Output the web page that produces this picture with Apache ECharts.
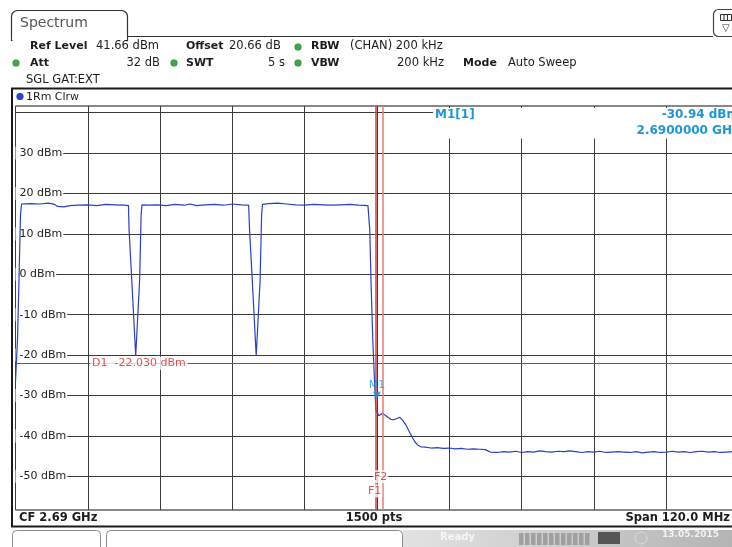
<!DOCTYPE html>
<html>
<head>
<meta charset="utf-8">
<script src="https://cdn.jsdelivr.net/npm/echarts@6/dist/echarts.min.js"></script>
<style>
html, body { margin: 0; padding: 0; background: #fff; }
#chart { width: 732px; height: 547px; }
</style>
</head>
<body>
<div id="chart"></div>
<script>
// trace, MHz / dBm
let traceFreq = [
  2630.0, 2630.33, 2630.58, 2630.83, 2631.0, 2632.5, 2634.0, 2635.5, 2636.5, 2637.0,
  2638.0, 2639.0, 2640.5, 2642.0, 2643.5, 2645.0, 2646.5, 2648.0, 2648.75, 2648.85,
  2649.4, 2649.95, 2650.6, 2650.85, 2651.0, 2652.0, 2653.5, 2655.0, 2656.5, 2658.0,
  2659.0, 2660.0, 2661.5, 2663.0, 2664.5, 2666.0, 2667.5, 2668.7, 2668.85, 2669.4,
  2669.95, 2670.6, 2670.85, 2671.0, 2672.0, 2673.5, 2675.0, 2676.5, 2678.0, 2679.5,
  2681.0, 2682.5, 2684.0, 2685.5, 2687.0, 2688.5, 2688.7, 2688.8, 2689.0, 2689.3,
  2689.65, 2689.8, 2690.0, 2690.3, 2690.6, 2690.9, 2691.3, 2691.8, 2692.3, 2692.8,
  2693.3, 2693.8, 2694.3, 2694.8, 2695.3, 2695.8, 2696.3, 2696.8, 2697.3, 2698,
  2699, 2700, 2701, 2702, 2703, 2704, 2705, 2706, 2707, 2708,
  2708.8, 2710, 2711, 2712, 2713, 2714, 2715, 2716, 2717, 2718,
  2719, 2720, 2721, 2722, 2723, 2724, 2725, 2726, 2727, 2728,
  2729, 2730, 2731, 2732, 2733, 2734, 2735, 2736, 2737, 2738,
  2739, 2740, 2741, 2742, 2743, 2744, 2745, 2746, 2747, 2748,
  2749, 2750
];
let traceLevel = [
  -26.5, -16.2, -1.4, 14.7, 17.4, 17.5, 17.4, 17.6, 17.3, 16.8,
  16.7, 17.0, 17.1, 17.2, 17.0, 17.3, 17.2, 17.1, 17.0, 11.0,
  -4.3, -20.2, -1.4, 14.7, 17.2, 17.1, 17.2, 17.0, 17.3, 17.1,
  17.4, 17.0, 17.2, 17.3, 17.1, 17.4, 17.2, 17.1, 11.0, -4.3,
  -20.2, -1.4, 14.7, 17.3, 17.5, 17.6, 17.4, 17.2, 17.1, 17.3,
  17.2, 17.1, 17.2, 17.3, 17.1, 17.0, 16.8, 11.0, -1.4, -16.2,
  -28.5, -33.5, -33.8, -35.0, -34.9, -34.4, -34.8, -35.4, -35.9, -36.0,
  -35.7, -35.4, -36.2, -37.3, -38.8, -40.2, -41.5, -42.3, -42.7, -42.8,
  -43.0, -42.9, -43.1, -43.0, -43.2, -43.1, -43.3, -43.2, -43.3, -43.4,
  -44.0, -44.1, -43.9, -44.0, -43.8, -44.1, -43.9, -44.0, -43.7, -43.9,
  -44.0, -43.8, -43.9, -43.7, -43.9, -44.1, -43.9, -44.0, -43.8, -44.1,
  -44.0, -43.9, -44.0, -44.1, -43.9, -44.2, -44.0, -43.9, -44.1, -44.0,
  -43.8, -44.0, -43.9, -44.1, -43.9, -43.8, -44.0, -43.9, -44.1, -44.0,
  -43.9, -44.0
];

let levelTicks = [-50, -40, -30, -20, -10, 0, 10, 20, 30, 40];
let levelLabels = [-50, -40, -30, -20, -10, 0, 10, 20, 30];
let freqMin = 2630;
let freqMax = 2750;
let freqStep = 12;
let refLevel = 41.66;
let bottomLevel = -58.34;

let displayLine = -22.03;
let f1Freq = 2689.85;
let f2Freq = 2690.9;
let markerFreq = 2690;
let markerLevel = -30.94;

let font = '"DejaVu Sans"';
let dark = '#1c1c1c';
let cyan = '#1e97d6';
let red = '#d42a2a';

function txt(x, y, text, style) {
  let s = style || {};
  let align = s.align || 'left';
  return {
    type: 'text', x: x, y: y, z: 110,
    style: {
      text: text,
      font: (s.bold ? 'bold ' : '') + (s.size || 11) + 'px ' + font,
      fill: s.color || dark,
      align: align, verticalAlign: 'middle',
      textAlign: align, textVerticalAlign: 'middle'
    }
  };
}

function dot(cx, cy, color) {
  return {
    type: 'circle', z: 110,
    shape: { cx: cx, cy: cy, r: 3.5 },
    style: { fill: color, stroke: 'rgba(0,0,0,0.25)', lineWidth: 0.5 }
  };
}

function rect(x, y, w, h, style, r) {
  return { type: 'rect', z: 100, shape: { x: x, y: y, width: w, height: h, r: r || 0 }, style: style };
}

function seg(x1, y1, x2, y2, color, width) {
  return { type: 'line', z: 101, shape: { x1: x1, y1: y1, x2: x2, y2: y2 }, style: { stroke: color, lineWidth: width || 1 } };
}

let green = '#3fa64a';

let graphics = [
  // tab + header line
  rect(11.5, 10.5, 116, 30, { fill: '#fff', stroke: '#333', lineWidth: 1.2 }, [6, 6, 0, 0]),
  { type: 'rect', z: 102, shape: { x: 12.5, y: 35, width: 114, height: 8 }, style: { fill: '#fff' } },
  seg(127.5, 36.5, 713, 36.5, '#333', 1.2),
  txt(20, 23, 'Spectrum', { size: 14, color: '#555' }),
  rect(713.5, 9.5, 30, 27, { fill: '#fff', stroke: '#444', lineWidth: 1.2 }, 5),
  { type: 'rect', z: 101, shape: { x: 720.5, y: 14.5, width: 11, height: 6 }, style: { fill: '#fff', stroke: '#333', lineWidth: 1 } },
  seg(724, 14.5, 724, 20.5, '#333'),
  seg(727.5, 14.5, 727.5, 20.5, '#333'),
  txt(722, 28, '▽', { size: 10, color: '#333' }),

  // settings rows
  txt(30, 46.5, 'Ref Level', { bold: true }),
  txt(96, 46.5, '41.66 dBm', { size: 11.5 }),
  txt(186, 46.5, 'Offset', { bold: true }),
  txt(229, 46.5, '20.66 dB', { size: 11.5 }),
  dot(298, 47, green),
  txt(311, 46.5, 'RBW', { bold: true }),
  txt(350, 46.5, '(CHAN) 200 kHz', { size: 11.5 }),

  dot(16, 63, green),
  txt(30, 63, 'Att', { bold: true }),
  txt(160, 63, '32 dB', { size: 11.5, align: 'right' }),
  dot(174, 63, green),
  txt(186, 63, 'SWT', { bold: true }),
  txt(285, 63, '5 s', { size: 11.5, align: 'right' }),
  dot(298, 63, green),
  txt(311, 63, 'VBW', { bold: true }),
  txt(444, 63, '200 kHz', { size: 11.5, align: 'right' }),
  txt(463, 63, 'Mode', { bold: true }),
  txt(508, 63, 'Auto Sweep', { size: 11.5 }),

  txt(26, 80, 'SGL GAT:EXT', { size: 11.5 }),

  // window frame
  rect(12, 88.5, 740, 438, { fill: 'none', stroke: '#1a1a1a', lineWidth: 2 }),
  dot(20, 96.5, '#2444d4'),
  txt(26, 97, '1Rm Clrw'),

  // bottom bar
  txt(19, 518.5, 'CF 2.69 GHz', { bold: true, size: 11.5 }),
  txt(374, 518.5, '1500 pts', { bold: true, size: 11.5, align: 'center' }),
  txt(730, 518.5, 'Span 120.0 MHz', { bold: true, size: 11.5, align: 'right' }),

  // marker info box
  rect(433, 108, 310, 30.5, { fill: '#fff' }),
  txt(435, 115, 'M1[1]', { bold: true, size: 12, color: cyan }),
  txt(739, 115, '-30.94 dBm', { bold: true, size: 12, color: cyan, align: 'right' }),
  txt(739, 131, '2.6900000 GHz', { bold: true, size: 12, color: cyan, align: 'right' }),

  // status bar
  rect(12.5, 530.5, 88, 20, { fill: '#fff', stroke: '#8a8a8a', lineWidth: 1 }, [4, 4, 0, 0]),
  rect(106.5, 530.5, 296, 20, { fill: '#fff', stroke: '#8a8a8a', lineWidth: 1 }, [4, 4, 0, 0]),
  rect(403, 530, 329, 17, {
    fill: new echarts.graphic.LinearGradient(0, 0, 1, 0, [
      { offset: 0, color: '#e2e2e2' },
      { offset: 1, color: '#b4b4b4' }
    ])
  }),
  txt(440, 537, 'Ready', { bold: true, size: 10, color: '#f6f6f6' }),
  { type: 'rect', z: 101, shape: { x: 598, y: 532, width: 22, height: 12 }, style: { fill: '#555' } },
  { type: 'circle', z: 101, shape: { cx: 641, cy: 538, r: 6 }, style: { fill: 'none', stroke: '#ddd', lineWidth: 1 } },
  txt(662, 535, '13.05.2015', { bold: true, size: 9, color: '#f2f2f2' })
];

for (let i = 0; i < 12; i++) {
  graphics.push({ type: 'rect', z: 101, shape: { x: 519 + i * 6, y: 533, width: 4.5, height: 12 }, style: { fill: '#a0a0a0' } });
}

let chart = echarts.init(document.getElementById('chart'));

let gridColor = '#3a3a3a';

let option = {
  backgroundColor: '#fff',
  animation: false,
  graphic: graphics,
  grid: {
    left: 15.5,
    top: 106,
    width: 723,
    height: 404,
    outerBoundsMode: 'none',
    containLabel: false,
    show: true,
    borderColor: '#111',
    borderWidth: 1,
    backgroundColor: 'transparent'
  },
  xAxis: {
    type: 'value',
    min: freqMin,
    max: freqMax,
    interval: freqStep,
    axisLine: { show: false },
    axisTick: { show: false },
    axisLabel: { show: false },
    splitLine: { show: true, lineStyle: { color: gridColor, width: 1 } }
  },
  yAxis: {
    type: 'value',
    min: bottomLevel,
    max: refLevel,
    axisLine: { show: false },
    axisTick: { show: false, customValues: levelTicks },
    splitLine: { show: true, lineStyle: { color: gridColor, width: 1 } },
    axisLabel: {
      inside: true,
      customValues: levelLabels,
      formatter: function (v) { return v + ' dBm'; },
      color: '#222',
      fontSize: 11,
      fontFamily: 'DejaVu Sans',
      backgroundColor: '#fff',
      padding: [1, 1, 1, 4],
      margin: 0
    }
  },
  series: [
    {
      name: 'lines',
      type: 'line',
      data: [],
      z: 2,
      markLine: {
        silent: true,
        symbol: ['none', 'none'],
        label: { show: false },
        animation: false,
        data: [
          { yAxis: displayLine, lineStyle: { color: red, width: 1, type: 'solid' } },
          { xAxis: f1Freq, lineStyle: { color: '#d83c3c', width: 1.5, type: 'solid' } },
          { xAxis: f2Freq, lineStyle: { color: '#e77a72', width: 1.5, type: 'solid' } }
        ]
      }
    },
    {
      name: 'trace',
      type: 'line',
      z: 3,
      data: traceFreq.map((f, i) => [f, traceLevel[i]]),
      showSymbol: false,
      symbol: 'none',
      lineStyle: { color: '#2b3ec6', width: 1.2 },
      clip: true
    },
    {
      name: 'labels',
      type: 'scatter',
      z: 5,
      symbol: 'rect',
      symbolSize: 1,
      itemStyle: { color: 'rgba(0,0,0,0)' },
      label: {
        show: true,
        fontSize: 11,
        fontFamily: 'DejaVu Sans',
        backgroundColor: '#fff',
        padding: [1, 2]
      },
      data: [
        { value: [2642.3, displayLine], label: { position: 'right', distance: 0, formatter: 'D1  -22.030 dBm', color: red } },
        { value: [2690.6, -50.1], label: { position: 'inside', formatter: 'F2', color: red, padding: [1, 1] } },
        { value: [2689.6, -53.6], label: { position: 'inside', formatter: 'F1', color: red, padding: [1, 1] } }
      ]
    },
    {
      name: 'marker',
      type: 'scatter',
      z: 6,
      symbol: 'triangle',
      symbolRotate: 180,
      symbolSize: [8, 7],
      symbolOffset: [0, -4],
      itemStyle: { color: cyan },
      label: {
        show: true,
        position: 'top',
        distance: 1,
        formatter: 'M1',
        color: cyan,
        fontSize: 11,
        fontFamily: 'DejaVu Sans'
      },
      data: [[markerFreq, markerLevel]]
    }
  ]
};

chart.setOption(option);
</script>
</body>
</html>
